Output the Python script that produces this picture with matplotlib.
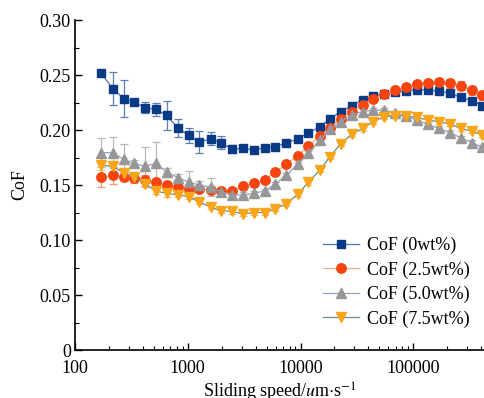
import numpy as np
import matplotlib
matplotlib.use("Agg")
import matplotlib.pyplot as plt
from matplotlib.ticker import LogLocator, MultipleLocator, FuncFormatter, NullFormatter

plt.rcParams['font.family'] = ['Liberation Serif', 'DejaVu Serif']
plt.rcParams['mathtext.fontset'] = 'stix'

# sliding speed (um/s)
speed = [170, 216, 270, 333, 418, 523, 650, 818, 1019, 1265, 1595, 1958,
         2479, 3104, 3863, 4835, 5967, 7427, 9425, 11700, 14850, 18230, 22660, 28360,
         35490, 44060, 54800, 68660, 85960, 106900, 133900, 167400, 211000, 262500, 328700, 408400]

cof_0 = [0.252, 0.2376, 0.2285, 0.2255, 0.2203, 0.2188, 0.2134, 0.2018, 0.1952, 0.189, 0.192, 0.1885,
         0.1827, 0.1833, 0.182, 0.184, 0.1849, 0.188, 0.192, 0.1973, 0.203, 0.2103, 0.2167, 0.222,
         0.2276, 0.231, 0.2328, 0.2345, 0.2358, 0.2366, 0.2362, 0.2355, 0.2334, 0.2297, 0.2268, 0.2222]
err_0 = [0.003, 0.015, 0.017, 0.002, 0.005, 0.006, 0.013, 0.008, 0.007, 0.010, 0.006, 0.006,
         0.004, 0.002, 0.002, 0.002, 0.002, 0.002, 0.002, 0.002, 0.002, 0.002, 0.002, 0.002,
         0.002, 0.002, 0.002, 0.002, 0.002, 0.002, 0.002, 0.002, 0.002, 0.002, 0.002, 0.002]

cof_25 = [0.157, 0.1588, 0.1576, 0.156, 0.1545, 0.1527, 0.1497, 0.148, 0.1465, 0.1462, 0.1455, 0.1448,
          0.1445, 0.1490, 0.1518, 0.155, 0.1615, 0.1688, 0.1766, 0.1856, 0.1943, 0.2021, 0.21, 0.2163,
          0.2230, 0.2285, 0.2324, 0.236, 0.2392, 0.2415, 0.2428, 0.2432, 0.2425, 0.2403, 0.2362, 0.2316]
err_25 = [0.009, 0.008, 0.004, 0.004, 0.005, 0.003, 0.003, 0.003, 0.003, 0.003, 0.002, 0.002,
          0.002, 0.002, 0.002, 0.002, 0.002, 0.002, 0.002, 0.002, 0.002, 0.002, 0.002, 0.002,
          0.002, 0.002, 0.002, 0.002, 0.002, 0.002, 0.002, 0.004, 0.004, 0.004, 0.004, 0.004]

cof_50 = [0.1794, 0.1794, 0.1733, 0.1697, 0.167, 0.1697, 0.1615, 0.1567, 0.1527, 0.150, 0.148, 0.144,
          0.1413, 0.1407, 0.1424, 0.1447, 0.1509, 0.1588, 0.1688, 0.1788, 0.1905, 0.2006, 0.2076, 0.2139,
          0.2168, 0.2178, 0.2182, 0.2155, 0.213, 0.209, 0.2052, 0.2015, 0.1976, 0.193, 0.1885, 0.1842]
err_50 = [0.013, 0.014, 0.014, 0.003, 0.018, 0.019, 0.004, 0.003, 0.010, 0.004, 0.008, 0.003,
          0.003, 0.003, 0.002, 0.002, 0.002, 0.002, 0.002, 0.002, 0.002, 0.002, 0.002, 0.002,
          0.002, 0.002, 0.002, 0.002, 0.002, 0.002, 0.002, 0.002, 0.002, 0.002, 0.002, 0.002]

cof_75 = [0.168, 0.167, 0.161, 0.157, 0.151, 0.1445, 0.1424, 0.141, 0.1394, 0.1345, 0.130, 0.1266,
          0.126, 0.1236, 0.125, 0.125, 0.1285, 0.1327, 0.1415, 0.1524, 0.1636, 0.1758, 0.1873, 0.196,
          0.2015, 0.2076, 0.2121, 0.213, 0.2127, 0.2115, 0.209, 0.2076, 0.2055, 0.2015, 0.1991, 0.1955]
err_75 = [0.004, 0.004, 0.004, 0.003, 0.003, 0.003, 0.003, 0.002, 0.002, 0.002, 0.002, 0.002,
          0.002, 0.002, 0.002, 0.002, 0.002, 0.002, 0.002, 0.002, 0.002, 0.002, 0.002, 0.002,
          0.002, 0.002, 0.002, 0.002, 0.002, 0.002, 0.002, 0.002, 0.002, 0.002, 0.002, 0.002]

labels = ['CoF (0wt%)', 'CoF (2.5wt%)', 'CoF (5.0wt%)', 'CoF (7.5wt%)']

fig = plt.figure(figsize=(4.85, 3.98), dpi=100)
ax = fig.add_axes([0.1546, 0.1206, 0.8454, 0.8291])

series = [
    (cof_0, err_0, 's', '#0a3a86', '#4a78b8', '#5a7fb5', 6.0),
    (cof_25, err_25, 'o', '#f5440f', '#f7ab85', '#f39a70', 6.8),
    (cof_50, err_50, '^', '#979797', '#8ea6c4', '#b8b8b8', 7.0),
    (cof_75, err_75, 'v', '#f8a51a', '#6d8f8c', '#f5c070', 7.0),
]
for (y, e, m, mc, lc, ec, ms), lab in zip(series, labels):
    ax.errorbar(speed, y, yerr=e, fmt='none', ecolor=ec, elinewidth=0.9,
                capsize=3, capthick=0.9, zorder=2)
    ax.plot(speed, y, marker=m, color=lc, lw=0.9, ms=ms, mfc=mc, mec=mc,
            label=lab, zorder=3)

ax.set_xscale('log')
ax.set_xlim(100, 4.32e5)
ax.set_ylim(0, 0.30)
ax.xaxis.set_major_locator(LogLocator(base=10, numticks=10))
ax.xaxis.set_minor_locator(LogLocator(base=10, subs=np.arange(2, 10), numticks=10))
ax.xaxis.set_minor_formatter(NullFormatter())
ax.xaxis.set_major_formatter(FuncFormatter(lambda v, p: '%d' % round(v)))
ax.yaxis.set_major_locator(MultipleLocator(0.05))
ax.yaxis.set_minor_locator(MultipleLocator(0.025))
ax.yaxis.set_major_formatter(FuncFormatter(lambda v, p: '0' if abs(v) < 1e-9 else '%.2f' % v))

for s in ['top', 'right']:
    ax.spines[s].set_visible(False)
for s in ['left', 'bottom']:
    ax.spines[s].set_linewidth(1.2)
ax.tick_params(which='major', direction='in', length=5, width=1.0, labelsize=13)
ax.tick_params(which='minor', direction='in', length=3, width=0.8)
ax.tick_params(axis='x', which='major', pad=7)
ax.tick_params(axis='y', which='major', pad=3)

ax.set_ylabel('CoF', fontsize=13, labelpad=8)
ax.set_xlabel(r'Sliding speed/$\mathit{u}$m$\cdot$s$^{-1}$', fontsize=13, labelpad=3)

ax.legend(loc='lower right', bbox_to_anchor=(0.99, 0.035), frameon=False, fontsize=13,
          handlelength=2.0, handletextpad=0.45, labelspacing=0.4, borderaxespad=0.2)

fig.savefig('out.png', dpi=100)
